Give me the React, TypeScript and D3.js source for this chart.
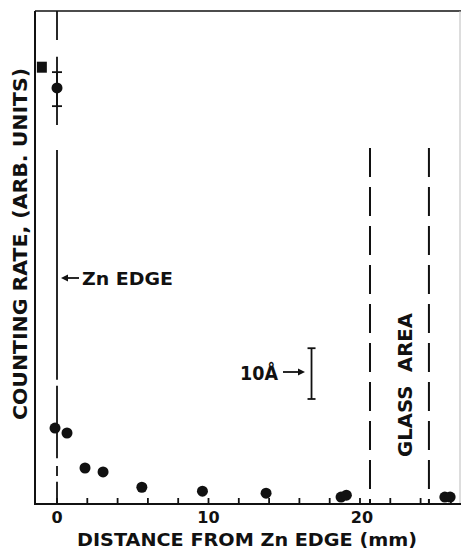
import React from "react";
import * as d3 from "d3";

// Data
const pointDistance = [-0.13, 0.66, 1.85, 3.04, 5.6, 9.6, 13.8, 18.75, 19.1, 25.6, 25.95];
const pointRate = [15.4, 14.4, 7.3, 6.5, 3.4, 2.6, 2.2, 1.4, 1.8, 1.4, 1.4];
const errPointDistance = [0];
const errPointRate = [84.4];
const errLow = [80.7];
const errHigh = [87.6];
const squareDistance = [-1.0];
const squareRate = [88.6];
const xTickValues = [0, 2, 4, 6, 8, 10, 12, 14, 16, 18, 20, 22, 24, 26];
const xTickLabels = ["0", "10", "20"];
const edgeDistance = 0;
const edgeSegments: [number, number][] = [
  [100, 94.1], [90.7, 76.9], [71.8, 25.2], [24.0, 16.2], [14.6, 9.3], [7.7, 5.7], [4.5, 0],
];
const glassEdges = [20.66, 24.55];
const glassTop = 72.2;
const scaleBarDistance = 16.8;
const scaleBarRange = [21.3, 31.6];

const W = 461;
const H = 550;
const left = 35;
const right = 460;
const top = 11;
const bottom = 504;

export default function App() {
  const x = d3.scaleLinear().domain([0, 10]).range([57, 208.5]);
  const y = d3.scaleLinear().domain([0, 100]).range([bottom, top]);
  const font = "'DejaVu Sans', 'Liberation Sans', sans-serif";
  const ink = "#111";
  const gx = x(glassEdges[0]);
  const gx2 = x(glassEdges[1]);
  const pre = { whiteSpace: "pre" as const };
  return (
    <svg width={W} height={H} style={{ position: "absolute", left: 0, top: 0, background: "#fff" }}
      fontFamily={font} fontWeight="bold" fill={ink}>
      {/* frame */}
      <line x1={left} x2={W} y1={top} y2={top} stroke={ink} strokeWidth={1.6} />
      <line x1={right} x2={right} y1={top} y2={bottom} stroke="#bbb" strokeWidth={1} />
      <line x1={left} x2={left} y1={top} y2={bottom + 1} stroke={ink} strokeWidth={2} />
      <line x1={left - 1} x2={W} y1={bottom} y2={bottom} stroke={ink} strokeWidth={2} />
      {/* ticks */}
      {xTickValues.map((t) => (
        <line key={t} x1={x(t)} x2={x(t)} y1={bottom} y2={bottom - 6} stroke={ink} strokeWidth={1.8} />
      ))}
      {xTickLabels.map((t) => (
        <text key={t} x={x(+t) + (t === "20" ? 2 : 0)} y={523} fontSize={16} textAnchor="middle">{t}</text>
      ))}
      {/* Zn edge line */}
      {edgeSegments.map(([a, b], i) => (
        <line key={i} x1={x(edgeDistance)} x2={x(edgeDistance)} y1={y(a)} y2={y(b)} stroke={ink} strokeWidth={1.8} />
      ))}
      {/* glass area lines */}
      {[gx, gx2].map((gxx, i) => (
        <line key={i} x1={gxx} x2={gxx} y1={y(glassTop)} y2={bottom} stroke={ink} strokeWidth={2}
          strokeDasharray="29 10" />
      ))}
      {/* error bar point */}
      {errPointDistance.map((d, i) => (
        <g key={i}>
          <line x1={x(d)} x2={x(d)} y1={y(errLow[i])} y2={y(errHigh[i])} stroke={ink} strokeWidth={1.8} />
          <line x1={x(d) - 5} x2={x(d) + 5} y1={y(errLow[i])} y2={y(errLow[i])} stroke={ink} strokeWidth={1.8} />
          <line x1={x(d) - 5} x2={x(d) + 5} y1={y(errHigh[i])} y2={y(errHigh[i])} stroke={ink} strokeWidth={1.8} />
          <circle cx={x(d)} cy={y(errPointRate[i])} r={5.5} fill={ink} />
        </g>
      ))}
      {squareDistance.map((d, i) => (
        <rect key={i} x={x(d) - 5} y={y(squareRate[i]) - 5.5} width={10} height={11} fill={ink} />
      ))}
      {pointDistance.map((d, i) => (
        <circle key={i} cx={x(d)} cy={y(pointRate[i])} r={5.5} fill={ink} />
      ))}
      {/* scale bar */}
      <g stroke={ink} strokeWidth={1.8}>
        <line x1={x(scaleBarDistance)} x2={x(scaleBarDistance)} y1={y(scaleBarRange[0])} y2={y(scaleBarRange[1])} />
        <line x1={x(scaleBarDistance) - 4} x2={x(scaleBarDistance) + 4} y1={y(scaleBarRange[0])} y2={y(scaleBarRange[0])} />
        <line x1={x(scaleBarDistance) - 4} x2={x(scaleBarDistance) + 4} y1={y(scaleBarRange[1])} y2={y(scaleBarRange[1])} />
        <line x1={283} x2={301} y1={372} y2={372} />
      </g>
      <path d="M305,372 L298,368.5 L298,375.5 Z" fill={ink} />
      <text x={240} y={380} fontSize={19} textLength={38} lengthAdjust="spacingAndGlyphs">10Å</text>
      {/* Zn edge label */}
      <line x1={66} x2={79} y1={278} y2={278} stroke={ink} strokeWidth={1.8} />
      <path d="M61,278 L68,274.5 L68,281.5 Z" fill={ink} />
      <text x={82} y={285} fontSize={18} textLength={91} lengthAdjust="spacingAndGlyphs" style={pre}>Zn EDGE</text>
      {/* glass area label */}
      <text transform="translate(412,385) rotate(-90)" fontSize={20} textAnchor="middle" style={pre}
        textLength={144} lengthAdjust="spacingAndGlyphs">GLASS  AREA</text>
      {/* axis titles */}
      <text transform="translate(27,244) rotate(-90)" fontSize={19} textAnchor="middle" style={pre}
        textLength={352} lengthAdjust="spacingAndGlyphs">COUNTING RATE, (ARB. UNITS)</text>
      <text x={247} y={546} fontSize={18} textAnchor="middle" textLength={340} style={pre}
        lengthAdjust="spacingAndGlyphs">DISTANCE FROM Zn EDGE (mm)</text>
    </svg>
  );
}
